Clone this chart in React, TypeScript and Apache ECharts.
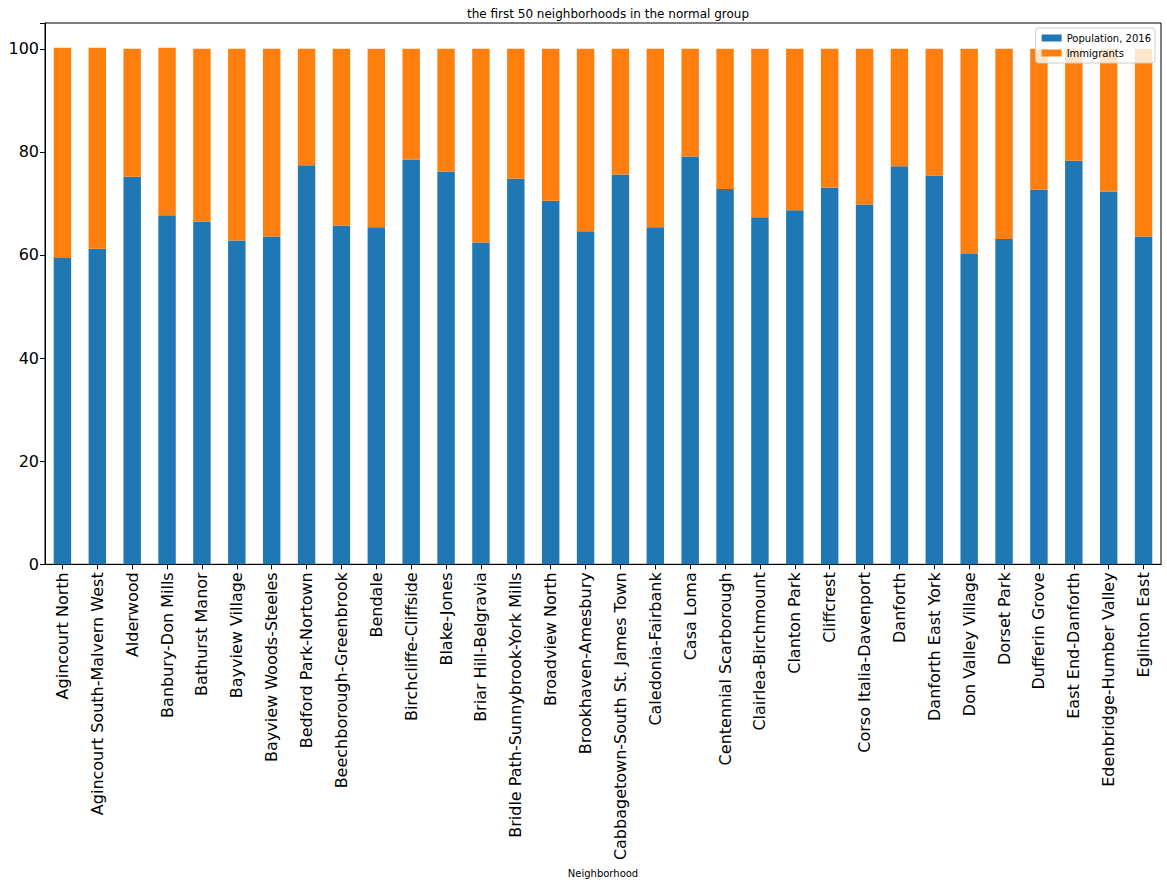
import React, { useEffect, useRef } from "react";
import * as echarts from "echarts";

const neighborhoods = [
  "Agincourt North", "Agincourt South-Malvern West", "Alderwood", "Banbury-Don Mills",
  "Bathurst Manor", "Bayview Village", "Bayview Woods-Steeles", "Bedford Park-Nortown",
  "Beechborough-Greenbrook", "Bendale", "Birchcliffe-Cliffside", "Blake-Jones",
  "Briar Hill-Belgravia", "Bridle Path-Sunnybrook-York Mills", "Broadview North", "Brookhaven-Amesbury",
  "Cabbagetown-South St. James Town", "Caledonia-Fairbank", "Casa Loma", "Centennial Scarborough",
  "Clairlea-Birchmount", "Clanton Park", "Cliffcrest", "Corso Italia-Davenport",
  "Danforth", "Danforth East York", "Don Valley Village", "Dorset Park",
  "Dufferin Grove", "East End-Danforth", "Edenbridge-Humber Valley", "Eglinton East",
];

const population2016 = [
  59.4, 61.2, 75.2, 67.7, 66.5, 62.8, 63.6, 77.4, 65.7, 65.4, 78.5, 76.2, 62.4, 74.8, 70.5, 64.6,
  75.6, 65.4, 79.1, 72.8, 67.3, 68.7, 73.1, 69.8, 77.2, 75.4, 60.2, 63.1, 72.7, 78.3, 72.3, 63.6,
];

const immigrants = [
  40.8, 39.0, 24.8, 32.5, 33.5, 37.2, 36.4, 22.6, 34.3, 34.6, 21.5, 23.8, 37.6, 25.2, 29.5, 35.4,
  24.4, 34.6, 20.9, 27.2, 32.7, 31.3, 26.9, 30.2, 22.8, 24.6, 39.8, 36.9, 27.3, 21.7, 27.7, 36.4,
];

const yTicks = [0, 20, 40, 60, 80, 100];

const FONT = "DejaVu Sans";

export default function App() {
  const ref = useRef<HTMLDivElement>(null);
  useEffect(() => {
    if (!ref.current) return;
    const chart = echarts.init(ref.current, null, { renderer: "svg" });
    chart.setOption({
      animation: false,
      backgroundColor: "#fff",
      textStyle: { fontFamily: FONT },
      title: {
        text: "the first 50 neighborhoods in the normal group",
        left: 603,
        top: 3,
        textAlign: "center",
        textStyle: { fontFamily: FONT, fontSize: 12, fontWeight: "normal", color: "#000" },
      },
      legend: {
        orient: "vertical",
        right: 12,
        top: 28,
        itemWidth: 20,
        itemHeight: 7,
        itemGap: 5,
        padding: [5, 4, 5, 6],
        borderColor: "#ccc",
        borderWidth: 1,
        borderRadius: 3,
        backgroundColor: "rgba(255,255,255,0.8)",
        icon: "rect",
        textStyle: { fontFamily: FONT, fontSize: 10, color: "#000" },
        data: ["Population, 2016", "Immigrants"],
      },
      grid: {
        left: 45,
        right: 6,
        top: 23,
        bottom: 316,
        show: true,
        borderColor: "#000",
        borderWidth: 1,
        containLabel: false,
      },
      xAxis: {
        type: "category",
        data: neighborhoods,
        name: "Neighborhood",
        nameLocation: "middle",
        nameGap: 298,
        nameTextStyle: { fontFamily: FONT, fontSize: 10, color: "#000" },
        axisLine: { show: true, lineStyle: { color: "#000", width: 1 } },
        axisTick: { show: true, alignWithLabel: true, length: 5, lineStyle: { color: "#000" } },
        axisLabel: {
          rotate: 90,
          interval: 0,
          margin: 8,
          fontFamily: FONT,
          fontSize: 16,
          color: "#000",
        },
        splitLine: { show: false },
      },
      yAxis: {
        type: "value",
        min: 0,
        max: 105,
        interval: 20,
        axisLine: { show: true, lineStyle: { color: "#000", width: 1 } },
        axisTick: { show: true, length: 5, lineStyle: { color: "#000" } },
        axisLabel: {
          fontFamily: FONT,
          fontSize: 16,
          color: "#000",
          margin: 6,
          formatter: (v: number) => (yTicks.includes(v) ? String(v) : ""),
        },
        splitLine: { show: false },
      },
      series: [
        {
          name: "Population, 2016",
          type: "bar",
          stack: "total",
          barWidth: "50%",
          itemStyle: { color: "#1f77b4" },
          data: population2016,
        },
        {
          name: "Immigrants",
          type: "bar",
          stack: "total",
          barWidth: "50%",
          itemStyle: { color: "#ff7f0e" },
          data: immigrants,
        },
      ],
    });
    return () => chart.dispose();
  }, []);
  return (
    <div
      ref={ref}
      style={{ position: "fixed", left: 0, top: 0, width: 1167, height: 883 }}
    />
  );
}
